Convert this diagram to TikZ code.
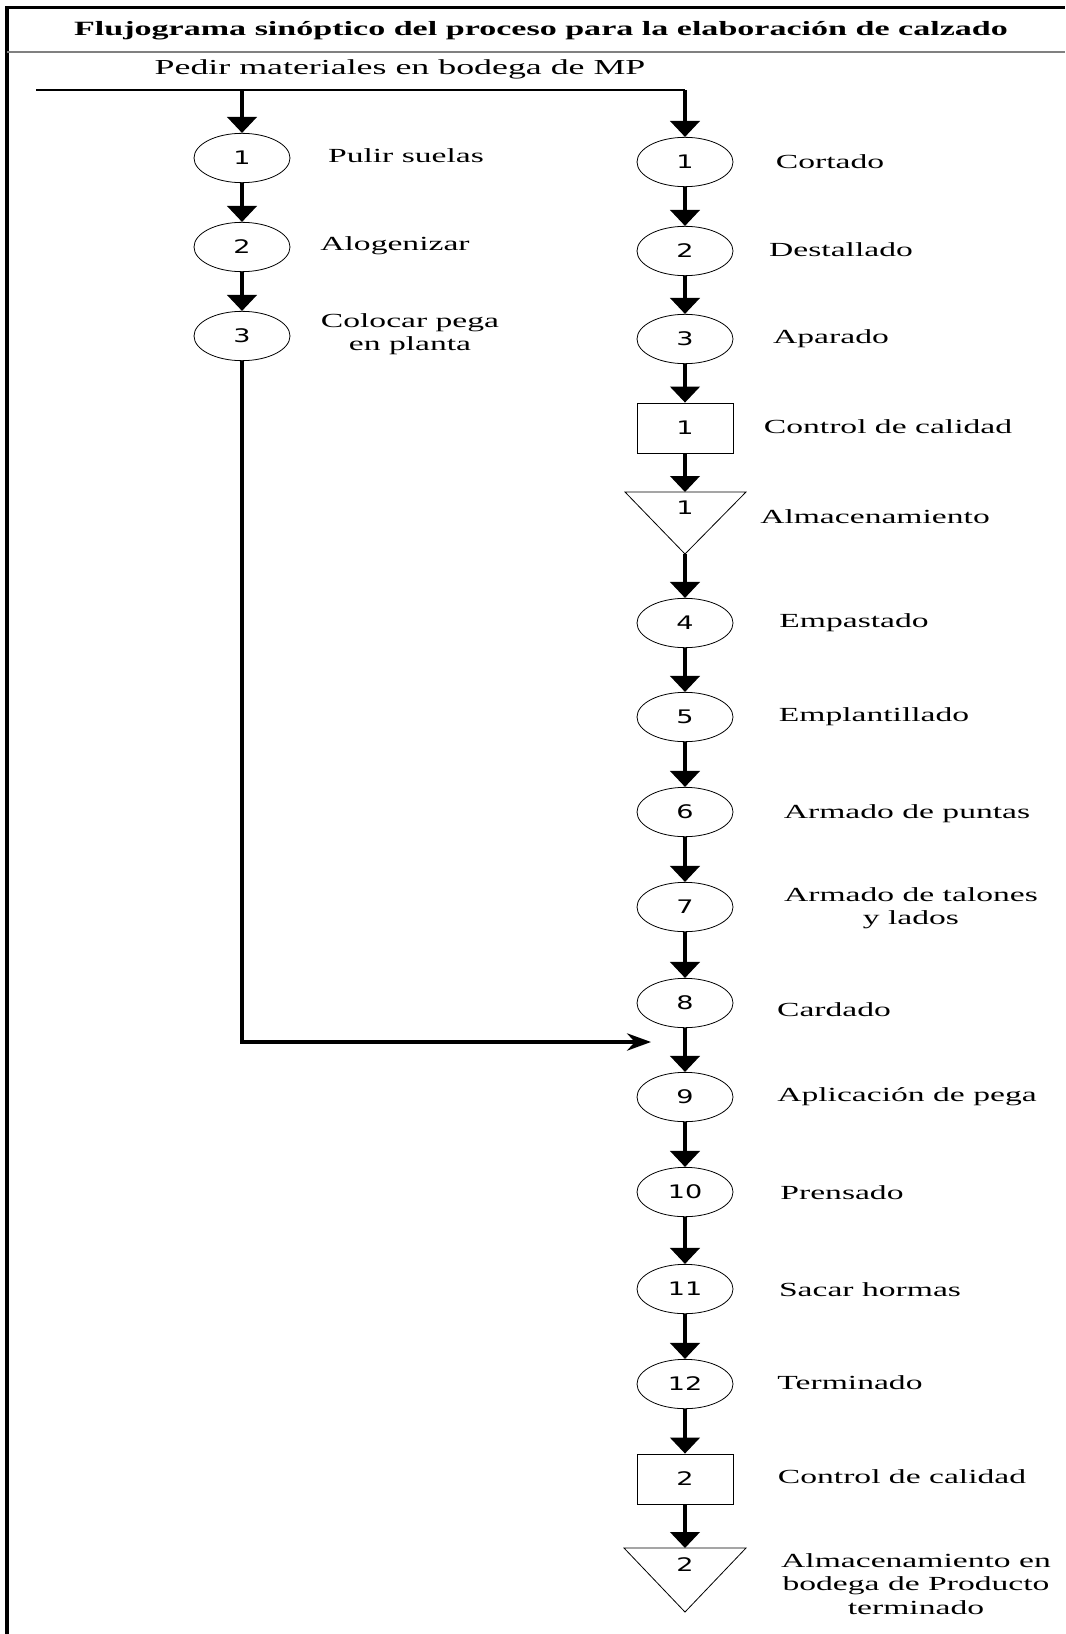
\documentclass[tikz,border=0pt]{standalone}
\usepackage{fontspec}
\setmainfont{Liberation Serif}[FakeStretch=1.68]
\newfontfamily\numfont{DejaVu Sans}[FakeStretch=1.45]
\usetikzlibrary{arrows.meta,shapes.geometric}

\begin{document}
\begin{tikzpicture}[x=0.75pt, y=-0.75pt,
        op/.style = {draw, ellipse, line width=0.6pt, minimum width=72pt, minimum height=37pt, inner sep=0pt, font=\numfont\fontsize{14}{16}\selectfont},
        ctrl/.style = {draw, rectangle, line width=0.6pt, minimum width=72pt, minimum height=37.5pt, inner sep=0pt, font=\numfont\fontsize{14}{16}\selectfont},
        num/.style = {inner sep=0pt, font=\numfont\fontsize{14}{16}\selectfont},
        lbl/.style = {align=center, inner sep=0pt, font=\fontsize{15}{17.5}\selectfont},
        flow/.style = {line width=2.6pt, -{Triangle[width=22pt, length=12pt]}},
        feed/.style = {line width=2pt}]
        \useasboundingbox (0, 0) rectangle (1065, 1634);
        % frame and title
        \draw [line width=2.8pt] (7, 1634) -- (7, 7.5) -- (1065, 7.5);
        \draw [gray, line width=1pt] (7, 52) -- (1065, 52);
        \node [lbl, font=\bfseries\fontsize{15.2}{17.5}\selectfont] (title) at (541, 31) {Flujograma sinóptico del proceso para la elaboración de calzado};
        \node [lbl, font=\fontsize{16}{18}\selectfont] (pedir) at (400, 69) {Pedir materiales en bodega de MP};
        % feed line
        \coordinate (start) at (36, 90);
        \coordinate (split) at (242, 90);
        \coordinate (corner) at (685, 90);
        \draw [feed] (start) -- (corner);
        % left column
        \node [op] (s1) at (242, 158) {1};
        \node [op] (s2) at (242, 247) {2};
        \node [op] (s3) at (242, 336) {3};
        \node [lbl] (ls1) at (406, 156) {Pulir suelas};
        \node [lbl] (ls2) at (395, 246) {Alogenizar};
        \node [lbl] (ls3) at (410, 334) {Colocar pega\\en planta};
        \draw [flow] (split) -- (s1);
        \draw [flow] (s1) -- (s2);
        \draw [flow] (s2) -- (s3);
        % right column
        \node [op] (o1) at (685, 162) {1};
        \node [op] (o2) at (685, 251) {2};
        \node [op] (o3) at (685, 339) {3};
        \node [ctrl] (c1) at (685, 428) {1};
        \draw [line width=0.6pt] (625, 492) -- (746, 492) -- (685, 554) -- cycle;
        \node [num] (a1) at (685, 508) {1};
        \coordinate (a1top) at (685, 492);
        \coordinate (a1tip) at (685, 554);
        \node [op] (o4) at (685, 623) {4};
        \node [op] (o5) at (685, 717) {5};
        \node [op] (o6) at (685, 812) {6};
        \node [op] (o7) at (685, 907) {7};
        \node [op] (o8) at (685, 1003) {8};
        \node [op] (o9) at (685, 1097) {9};
        \node [op] (o10) at (685, 1192) {10};
        \node [op] (o11) at (685, 1289) {11};
        \node [op] (o12) at (685, 1384) {12};
        \node [ctrl] (c2) at (685, 1479) {2};
        \draw [line width=0.6pt] (624, 1548) -- (746, 1548) -- (685, 1612) -- cycle;
        \node [num] (a2) at (685, 1565) {2};
        \coordinate (a2top) at (685, 1548);
        % right labels
        \node [lbl] (lo1) at (830, 162) {Cortado};
        \node [lbl] (lo2) at (841, 250) {Destallado};
        \node [lbl] (lo3) at (831, 339) {Aparado};
        \node [lbl] (lc1) at (888, 427) {Control de calidad};
        \node [lbl] (la1) at (875, 517) {Almacenamiento};
        \node [lbl] (lo4) at (854, 623) {Empastado};
        \node [lbl] (lo5) at (874, 717) {Emplantillado};
        \node [lbl] (lo6) at (907, 814) {Armado de puntas};
        \node [lbl] (lo7) at (911, 908) {Armado de talones\\y lados};
        \node [lbl] (lo8) at (834, 1010) {Cardado};
        \node [lbl] (lo9) at (907, 1097) {Aplicación de pega};
        \node [lbl] (lo10) at (842, 1193) {Prensado};
        \node [lbl] (lo11) at (870, 1290) {Sacar hormas};
        \node [lbl] (lo12) at (850, 1383) {Terminado};
        \node [lbl] (lc2) at (902, 1477) {Control de calidad};
        \node [lbl] (la2) at (916, 1584) {Almacenamiento en\\bodega de Producto\\terminado};
        \draw [flow] (corner) -- (o1);
        \draw [flow] (o1) -- (o2);
        \draw [flow] (o2) -- (o3);
        \draw [flow] (o3) -- (c1);
        \draw [flow] (c1) -- (a1top);
        \draw [flow] (a1tip) -- (o4);
        \draw [flow] (o4) -- (o5);
        \draw [flow] (o5) -- (o6);
        \draw [flow] (o6) -- (o7);
        \draw [flow] (o7) -- (o8);
        \draw [flow] (o8) -- (o9);
        \draw [flow] (o9) -- (o10);
        \draw [flow] (o10) -- (o11);
        \draw [flow] (o11) -- (o12);
        \draw [flow] (o12) -- (c2);
        \draw [flow] (c2) -- (a2top);
        % soles join the upper
        \coordinate (bend) at (242, 1042);
        \coordinate (join) at (651, 1042);
        \draw [line width=2.4pt, -{Stealth[length=18pt, width=13pt]}] (s3) -- (bend) -- (join);
    \end{tikzpicture}
\end{document}
